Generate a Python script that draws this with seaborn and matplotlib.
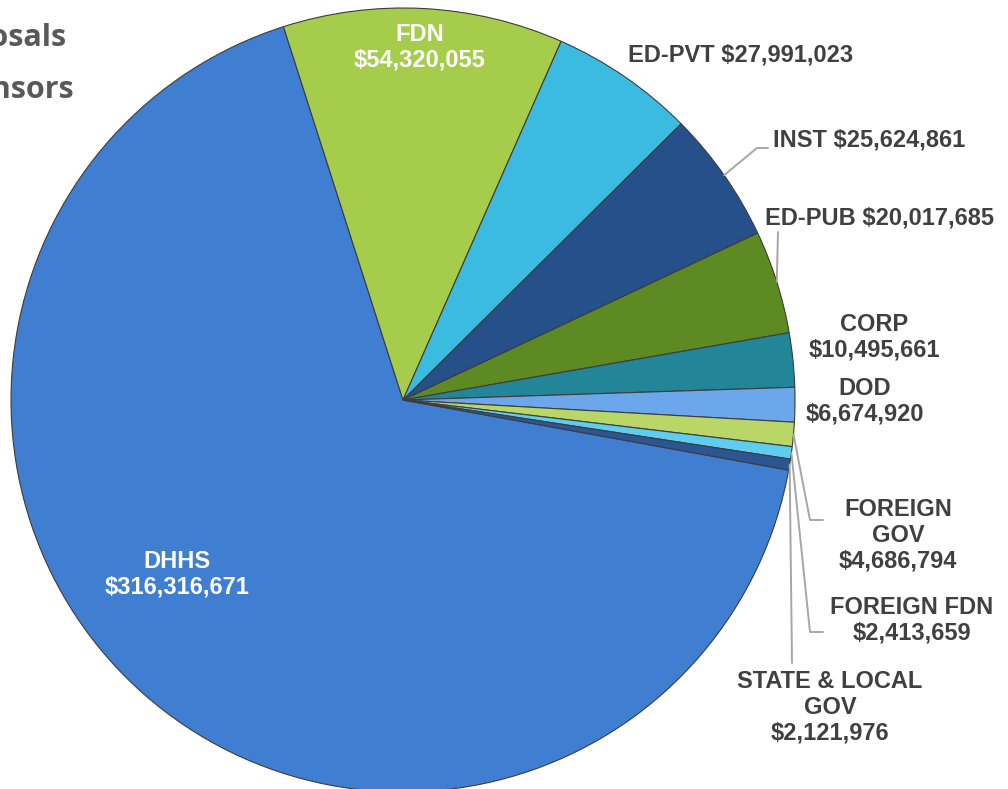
import numpy as np
import seaborn as sns
import matplotlib
matplotlib.use("Agg")
import matplotlib.pyplot as plt

# sponsors, in the order the wedges are drawn (clockwise, DHHS first)
sponsors = ['DHHS', 'FDN', 'ED-PVT', 'INST', 'ED-PUB', 'CORP', 'DOD',
            'FOREIGN GOV', 'FOREIGN FDN', 'STATE & LOCAL GOV']
amounts = [316316671, 54320055, 27991023, 25624861, 20017685, 10495661,
           6674920, 4686794, 2413659, 2121976]
label_text = ['DHHS\n$316,316,671', 'FDN\n$54,320,055', 'ED-PVT $27,991,023',
              'INST $25,624,861', 'ED-PUB $20,017,685', 'CORP\n$10,495,661',
              'DOD\n$6,674,920', 'FOREIGN\nGOV\n$4,686,794',
              'FOREIGN FDN\n$2,413,659', 'STATE & LOCAL\nGOV\n$2,121,976']
colors = ['#3f7ed0', '#a6cc4c', '#3bbbdf', '#25508a', '#5e8a24', '#228598',
          '#6ba7ea', '#bad666', '#5ecdee', '#2b5593']

sns.set_theme(style='white')
plt.rcParams['font.family'] = ['Liberation Sans', 'DejaVu Sans']

W, H = 1008, 789
CX, CY, R = 403, 400, 392  # pie centre / radius in pixels


def px(x, y):
    return (x - CX) / R, (CY - y) / R


fig = plt.figure(figsize=(W / 100, H / 100), dpi=100)
ax = fig.add_axes([0, 0, 1, 1])

start = 360 - 10.3
wedges, _ = ax.pie(amounts, colors=colors, startangle=start, counterclock=False,
                   radius=1.0, wedgeprops=dict(edgecolor='#3c3c3c', linewidth=0.8))
# pie() resets the limits, so set them afterwards
ax.set_aspect('auto')
ax.set_xlim((0 - CX) / R, (W - CX) / R)
ax.set_ylim((CY - H) / R, CY / R)
ax.axis('off')

# label positions (pixels) and leader line elbows
label_pos = {
    'DHHS': (177, 574), 'FDN': (420, 47), 'ED-PVT': (741, 55),
    'INST': (869, 140), 'ED-PUB': (879, 218), 'CORP': (874, 337),
    'DOD': (865, 401), 'FOREIGN GOV': (898, 535), 'FOREIGN FDN': (912, 620),
    'STATE & LOCAL GOV': (830, 707),
}
leaders = {
    'INST': [(757, 148), (768, 148)],
    'ED-PUB': [(778, 232)],
    'FOREIGN GOV': [(810, 520), (823, 520)],
    'FOREIGN FDN': [(810, 632), (823, 632)],
    'STATE & LOCAL GOV': [(792, 663)],
}

for name, txt, w in zip(sponsors, label_text, wedges):
    x, y = px(*label_pos[name])
    inside = name in ('DHHS', 'FDN')
    ax.text(x, y, txt, ha='center', va='center', fontsize=17, fontweight='bold',
            color='white' if inside else '#404040', linespacing=1.15)
    if name in leaders:
        mid = np.deg2rad((w.theta1 + w.theta2) / 2)
        pts = [(np.cos(mid), np.sin(mid))] + [px(*p) for p in leaders[name]]
        xs, ys = zip(*pts)
        ax.plot(xs, ys, color='#a6a6a6', lw=1.4, zorder=1)

# title, cropped at the left edge as in the source slide
fig.text(66 / W, 1 - 38 / H, 'Proposals', ha='right', va='center', fontsize=22,
         fontweight='bold', color='#595959', family=['Open Sans', 'DejaVu Sans'])
fig.text(74 / W, 1 - 90 / H, 'by Sponsors', ha='right', va='center', fontsize=22,
         fontweight='bold', color='#595959', family=['Open Sans', 'DejaVu Sans'])

fig.savefig('out.png', dpi=100)
